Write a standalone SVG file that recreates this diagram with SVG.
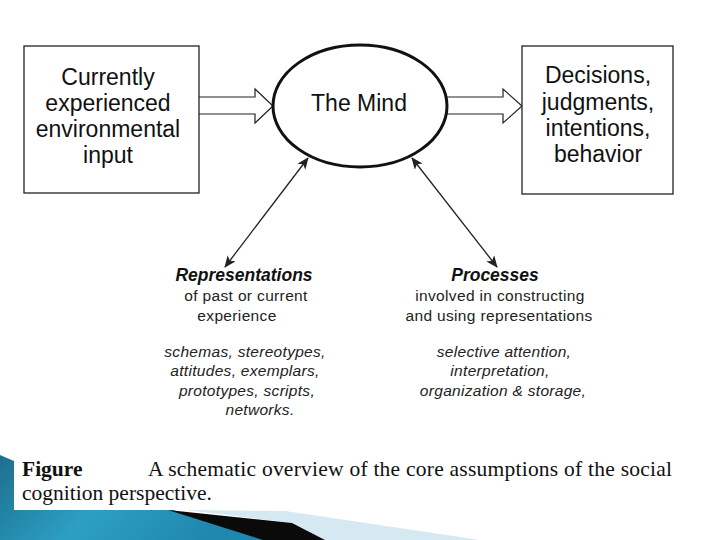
<svg xmlns="http://www.w3.org/2000/svg" width="720" height="540" viewBox="0 0 720 540">
<defs>
<style>
.box{fill:#fff;stroke:#222;stroke-width:1.3}
.lbl{font-family:"Liberation Sans",Arial,sans-serif;font-size:23px;fill:#111;text-anchor:middle}
.hd{font-family:"Liberation Sans",Arial,sans-serif;font-size:17.5px;font-weight:bold;font-style:italic;fill:#111;text-anchor:middle}
.sub{font-family:"Liberation Sans",Arial,sans-serif;font-size:15.5px;letter-spacing:0.35px;fill:#222;text-anchor:middle}
.it{font-family:"Liberation Sans",Arial,sans-serif;font-size:15.5px;letter-spacing:0.3px;font-style:italic;fill:#222;text-anchor:middle}
.cap{font-family:"Liberation Serif","Times New Roman",serif;font-size:21.5px;fill:#111}
.hollow{fill:#fff;stroke:#222;stroke-width:1.2}
.dbl{stroke:#222;stroke-width:1.3;fill:none;marker-start:url(#ah);marker-end:url(#ah)}
</style>
<marker id="ah" viewBox="0 0 12 10" refX="11" refY="5" markerWidth="12" markerHeight="10" markerUnits="userSpaceOnUse" orient="auto-start-reverse">
<path d="M0,0 L12,5 L0,10 L3,5 Z" fill="#222"/>
</marker>
<linearGradient id="teal" x1="0" y1="0" x2="1" y2="0.3">
<stop offset="0" stop-color="#1d6f8e"/>
<stop offset="0.5" stop-color="#2d9fc4"/>
<stop offset="1" stop-color="#1f86ad"/>
</linearGradient>
</defs>
<rect width="720" height="540" fill="#fff"/>
<g id="decoration">
<polygon points="0,455 14,461 14,510 173,510 265,540 0,540" fill="url(#teal)"/>
<polygon points="186,510 285,511 480,540 325,540 292,523" fill="#d6e8f1"/>
<polygon points="168,510 292,523 325,540 263,540" fill="#0a0a0a"/>
</g>
<g id="connectors">
<path class="hollow" d="M199,97 L255,97 L255,89 L273,106 L255,123 L255,114 L199,114"/>
<path class="hollow" d="M447,97 L503,97 L503,89 L522,106 L503,123 L503,114 L447,114"/>
<line class="dbl" x1="308" y1="158" x2="225" y2="267"/>
<line class="dbl" x1="412" y1="158" x2="497" y2="267"/>
</g>
<g id="input">
<rect class="box" x="24" y="46" width="175" height="147"/>
<text class="lbl" x="108" y="85">Currently</text>
<text class="lbl" x="108" y="111">experienced</text>
<text class="lbl" x="108" y="137">environmental</text>
<text class="lbl" x="108" y="163">input</text>
</g>
<g id="mind">
<ellipse cx="360" cy="106" rx="87" ry="61" fill="#fff" stroke="#111" stroke-width="3"/>
<text class="lbl" x="359" y="111">The Mind</text>
</g>
<g id="output">
<rect class="box" x="522" y="46" width="151" height="148"/>
<text class="lbl" x="598" y="83">Decisions,</text>
<text class="lbl" x="598" y="110">judgments,</text>
<text class="lbl" x="598" y="136">intentions,</text>
<text class="lbl" x="598" y="162">behavior</text>
</g>
<g id="representations">
<text class="hd" x="244" y="281">Representations</text>
<text class="sub" x="246" y="301">of past or current</text>
<text class="sub" x="237" y="321">experience</text>
<text class="it" x="245" y="357">schemas, stereotypes,</text>
<text class="it" x="245" y="376">attitudes, exemplars,</text>
<text class="it" x="247" y="396">prototypes, scripts,</text>
<text class="it" x="260" y="415">networks.</text>
</g>
<g id="processes">
<text class="hd" x="495" y="281">Processes</text>
<text class="sub" x="500" y="301">involved in constructing</text>
<text class="sub" x="499" y="321">and using representations</text>
<text class="it" x="504" y="357">selective attention,</text>
<text class="it" x="500" y="376">interpretation,</text>
<text class="it" x="503" y="396">organization &amp; storage,</text>
</g>
<g id="caption">
<text class="cap" x="22" y="476" font-weight="bold">Figure</text>
<text class="cap" x="148" y="476" textLength="524" lengthAdjust="spacing">A schematic overview of the core assumptions of the social</text>
<text class="cap" x="22" y="500">cognition perspective.</text>
</g>
</svg>
